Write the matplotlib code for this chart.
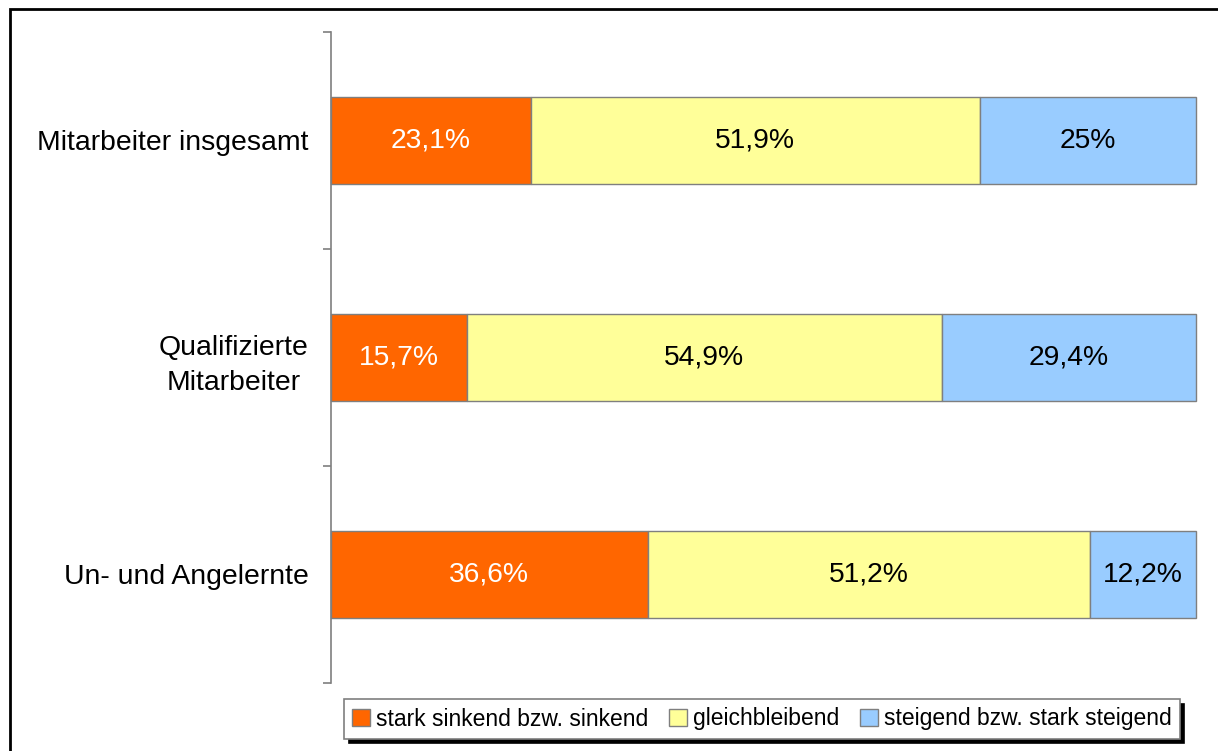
import matplotlib
matplotlib.use("Agg")
import matplotlib.pyplot as plt
from matplotlib.patches import Rectangle

plt.rcParams['font.family'] = ['Liberation Sans', 'DejaVu Sans']

categories = ["Mitarbeiter insgesamt", "Qualifizierte\nMitarbeiter", "Un- und Angelernte"]
series_names = ["stark sinkend bzw. sinkend", "gleichbleibend", "steigend bzw. stark steigend"]
sinkend = [23.1, 15.7, 36.6]
gleich = [51.9, 54.9, 51.2]
steigend = [25.0, 29.4, 12.2]
colors = ["#FF6600", "#FFFF99", "#99CCFF"]
text_colors = ["white", "black", "black"]

W, H = 1218, 751
fig = plt.figure(figsize=(W / 100, H / 100), dpi=100)
ax = fig.add_axes([331 / W, 1 - 683 / H, (1196 - 331) / W, (683 - 32) / H])

ypos = list(range(len(categories)))
left = [0.0] * len(categories)
handles = []
for vals, name, col, tc in zip([sinkend, gleich, steigend], series_names, colors, text_colors):
    bars = ax.barh(ypos, vals, left=left, height=0.4, color=col, edgecolor="#7f7f7f",
                   linewidth=1.0, label=name, clip_on=False)
    labels = [f"{v:g}".replace('.', ',') + "%" for v in vals]
    ax.bar_label(bars, labels=labels, label_type='center', color=tc, fontsize=20.3)
    handles.append(bars)
    left = [l + v for l, v in zip(left, vals)]

ax.set_xlim(0, 100)
ax.set_ylim(2.5, -0.5)
ax.set_yticks(ypos)
ax.set_yticklabels(categories, fontsize=20.4, multialignment='center', linespacing=1.45)
ax.set_yticks([-0.5, 0.5, 1.5, 2.5], minor=True)
ax.tick_params(axis='y', which='major', length=0, pad=16)
ax.tick_params(axis='y', which='minor', length=6, width=1.2, color="#7f7f7f", direction='out')
ax.set_xticks([])
for s in ['top', 'right', 'bottom']:
    ax.spines[s].set_visible(False)
ax.spines['left'].set_color("#7f7f7f")
ax.spines['left'].set_linewidth(1.2)

leg = fig.legend(handles=handles, labels=series_names, loc='center',
                 bbox_to_anchor=(762 / W, 1 - 719 / H), ncol=3, fontsize=16.5,
                 frameon=True, fancybox=False, edgecolor="#7f7f7f",
                 shadow={'color': 'black', 'alpha': 1.0, 'ox': 3.2, 'oy': -3.2},
                 handlelength=0.8, handleheight=0.8, handletextpad=0.25,
                 columnspacing=0.9, borderpad=0.35, borderaxespad=0)
leg.get_frame().set_linewidth(1.2)

fig.add_artist(Rectangle((10 / W, -0.1), 1.5, (1 - 9 / H) + 0.1, transform=fig.transFigure,
                         fill=False, edgecolor='black', linewidth=2.0))

fig.savefig("out.png", dpi=100)
